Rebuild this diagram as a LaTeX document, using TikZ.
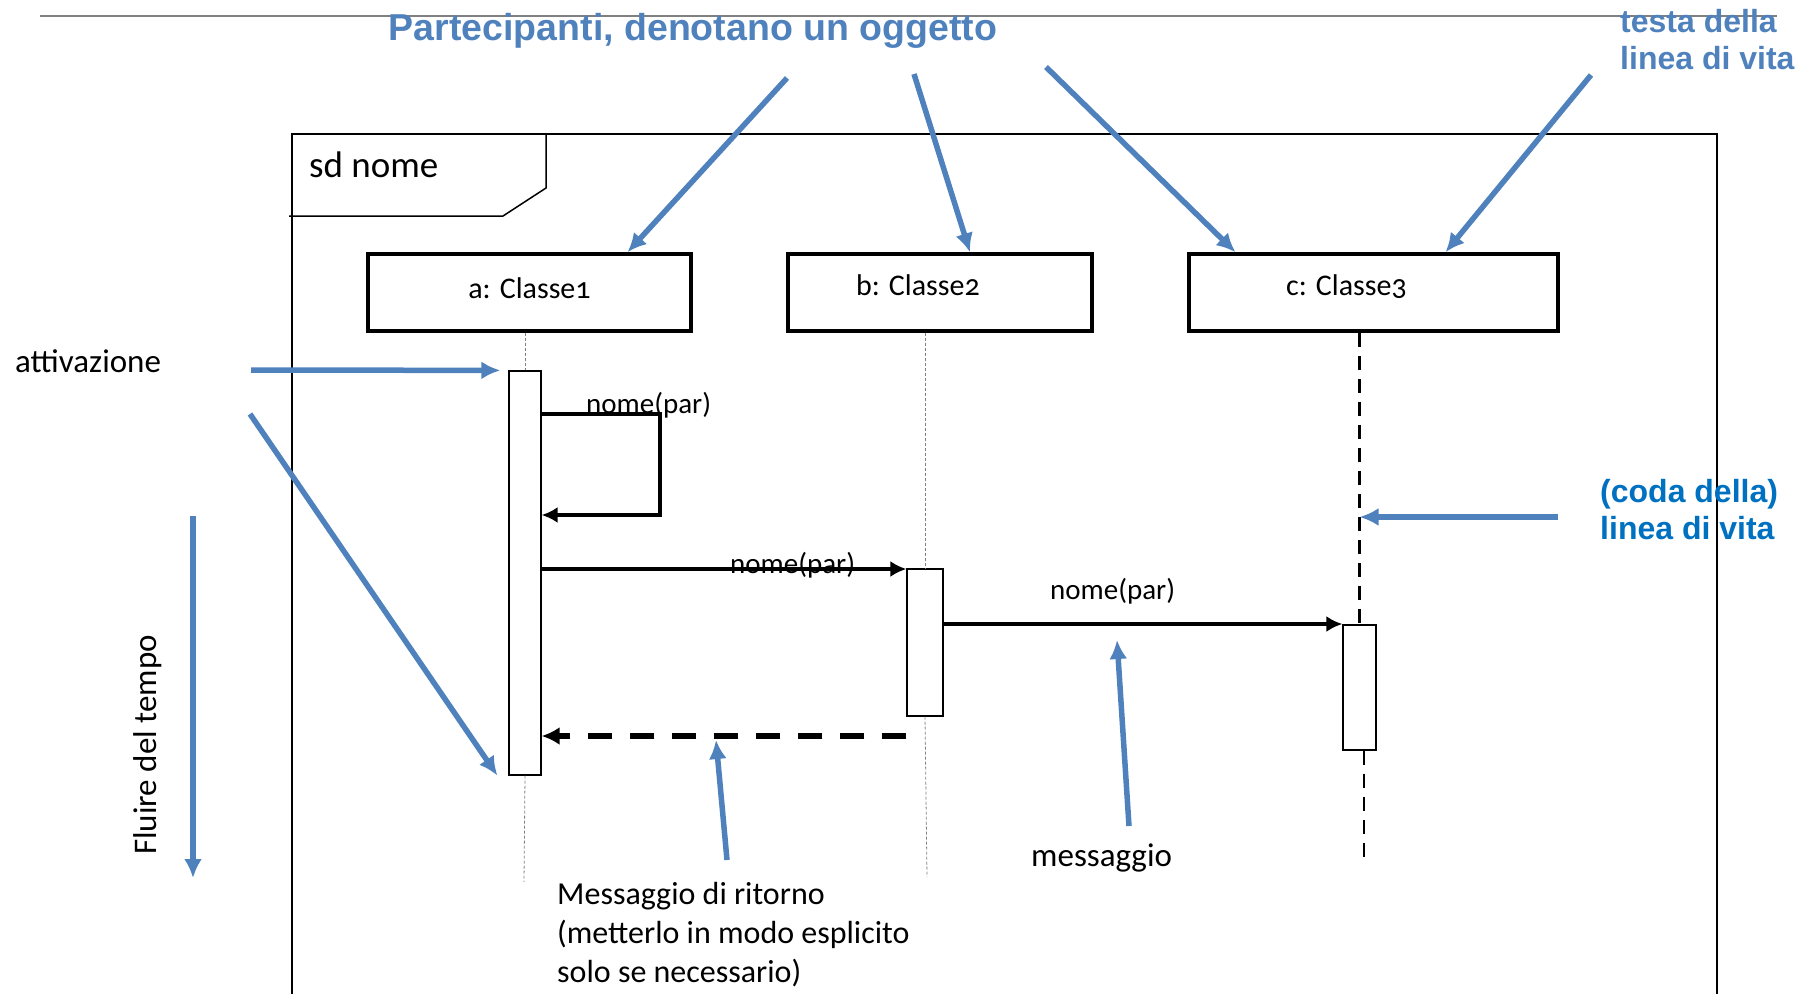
\documentclass[tikz,border=0pt]{standalone}
\usepackage{fontspec}
\setmainfont{Carlito}[Numbers=OldStyle]
\newfontfamily\annfont{Liberation Sans}
\usetikzlibrary{arrows.meta}
\definecolor{annblue}{RGB}{79,129,189}
\definecolor{codablue}{RGB}{0,112,192}

\begin{document}
\begin{tikzpicture}[x=1pt,y=-1pt,
  obj/.style={draw,line width=3.5pt,minimum width=#1,minimum height=77pt,inner sep=0pt,font=\fontsize{30}{36}\selectfont},
  act/.style={draw,line width=1.2pt,fill=white,inner sep=0pt},
  msg/.style={line width=3.5pt,-{Latex[length=16pt,width=16pt]}},
  ann/.style={annblue,line width=5.5pt,-{Latex[length=19pt,width=18pt]}},
  lbl/.style={inner sep=0pt,font=\fontsize{29}{35}\selectfont},
  note/.style={inner sep=0pt,align=left,font=\fontsize{33}{39}\selectfont},
  head/.style={inner sep=0pt,align=left,font=\annfont\bfseries\fontsize{32}{37}\selectfont},
  life/.style={gray,line width=0.8pt,dash pattern=on 3pt off 2pt}]
\useasboundingbox (0,0) rectangle (1814,993);
\draw[gray,line width=2pt] (40,16) -- (1777,16);
% frame
\draw[line width=1.5pt] (292,1000) -- (292,134) -- (1717,134) -- (1717,1000);
\draw[line width=1.5pt] (289,216) -- (503,216) -- (546,188) -- (546,134);
\node[anchor=base west,inner sep=0pt,font=\fontsize{37}{44}\selectfont] (sd)at(309,177){sd nome};
% lifeline heads
\node[obj=323pt] (a)at(529.5,292.5){\raisebox{9pt}{a: Classe1}};
\node[obj=304pt] (b)at(940,292.5){\raisebox{14pt}{b: Classe2}\hspace*{44pt}};
\node[obj=369pt] (c)at(1373.5,292.5){\raisebox{14pt}{c: Classe3}\hspace*{54pt}};
% activations
\node[act,minimum width=32pt,minimum height=404pt] (actA)at(525,573){};
\node[act,minimum width=36pt,minimum height=147pt] (actB)at(925,642.5){};
\node[act,minimum width=33pt,minimum height=125pt] (actC)at(1359.5,687.5){};
\coordinate (endA) at (524,882);
\coordinate (endB) at (927,877);
\coordinate (endC) at (1364,860);
\draw[life] (actA.north |- a.south) -- (actA.north);
\draw[life] (actA.south) -- (endA);
\draw[life] (actB.north |- b.south) -- (actB.north);
\draw[life] (actB.south) -- (endB);
\draw[line width=2.5pt,dash pattern=on 14pt off 9pt] (actC.north |- c.south) -- (actC.north);
\draw[line width=2.5pt,dash pattern=on 14pt off 9pt] (endC |- actC.south) -- (endC);
% messages
\coordinate (r1) at (660,414);
\coordinate (r2) at (660,515);
\coordinate (r3) at (0,569);
\coordinate (r4) at (0,624);
\coordinate (r5) at (0,736);
\draw[msg] (actA.east |- r1) -- (r1) -- (r2) -- (actA.east |- r2);
\node[lbl,anchor=base west] (m1)at(586,413){nome(par)};
\draw[msg] (actA.east |- r3) -- (actB.west |- r3);
\node[lbl,anchor=base west] (m2)at(730,573){nome(par)};
\draw[msg] (actB.east |- r4) -- (actC.west |- r4);
\node[lbl,anchor=base west] (m3)at(1050,599){nome(par)};
\draw[line width=6pt,dash pattern=on 24pt off 18pt,-{Latex[length=18pt,width=18pt]}] (actB.west |- r5) -- (actA.east |- r5);
% annotations
\node[inner sep=0pt,font=\annfont\bfseries\fontsize{37.5}{44}\selectfont,text=annblue] (part)at(693,31){Partecipanti, denotano un oggetto};
\node[head,text=annblue,anchor=north west] (testa)at(1620,9){testa della\\linea di vita};
\node[head,text=codablue,anchor=north west] (coda)at(1600,479){(coda della)\\linea di vita};
\node[note,anchor=base west] (attiv)at(15,372){attivazione};
\node[note,anchor=base,rotate=90] (tempo)at(156,745){Fluire del tempo};
\node[note,anchor=base west] (mess)at(1031,866){messaggio};
\node[note,anchor=north west,font=\fontsize{32}{39}\selectfont] (ritorno)at(557,882){Messaggio di ritorno\\(metterlo in modo esplicito\\solo se necessario)};
\coordinate (t1) at (787,78);
\coordinate (t2) at (914,74);
\coordinate (t3) at (1046,67);
\coordinate (t4) at (1591,75);
\coordinate (t5) at (251,370);
\coordinate (t6) at (250,414);
\coordinate (t7) at (193,516);
\coordinate (t7e) at (193,878);
\coordinate (t8) at (1558,517);
\coordinate (t9) at (1129,826);
\coordinate (h9) at (1117,640);
\coordinate (t10) at (727,860);
\coordinate (h10) at (716,740);
\draw[ann] (t1) -- ([xshift=98pt]a.north);
\draw[ann] (t2) -- ([xshift=30pt]b.north);
\draw[ann] (t3) -- ([xshift=-138pt]c.north);
\draw[ann] (t4) -- ([xshift=72pt]c.north);
\draw[ann] (t5) -- ([xshift=-8pt]actA.north west);
\draw[ann] (t6) -- ([xshift=-11pt]actA.south west);
\draw[ann] (t7) -- (t7e);
\draw[ann] (t8) -- (actC.north |- t8);
\draw[ann] (t9) -- (h9);
\draw[ann] (t10) -- (h10);
\end{tikzpicture}
\end{document}
